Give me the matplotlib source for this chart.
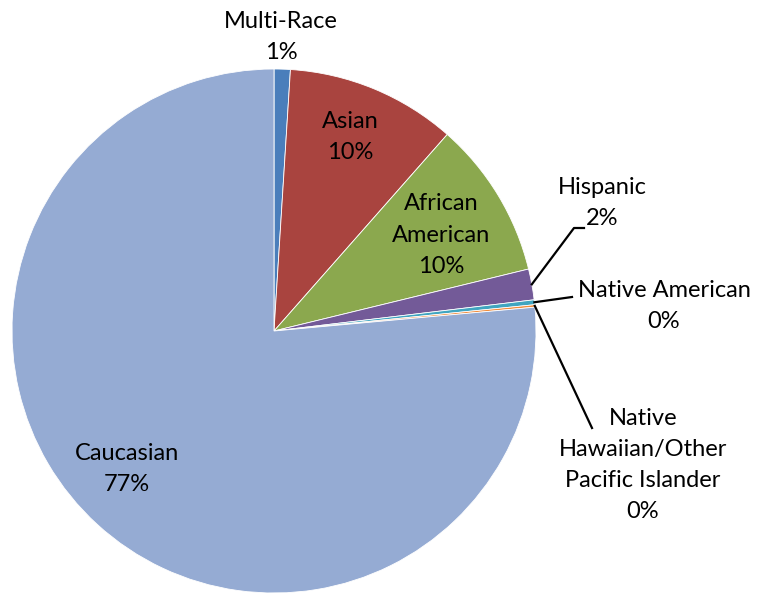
import numpy as np
import matplotlib.pyplot as plt

# data, clockwise from 12 o'clock
groups = ["Multi-Race", "Asian", "African\nAmerican", "Hispanic", "Native American",
          "Native\nHawaiian/Other\nPacific Islander", "Caucasian"]
shares = [1.0, 10.5, 9.7, 1.9, 0.3, 0.15, 76.45]
pct_text = ["1%", "10%", "10%", "2%", "0%", "0%", "77%"]
colors = ["#4A7EBB", "#A9443F", "#8BA84E", "#735A98", "#40A5C0", "#F08C3C", "#95ABD3"]

W, H = 757, 593
CX, CY, R = 274, H - 331, 262

fig = plt.figure(figsize=(W / 100, H / 100), dpi=100)
ax = fig.add_axes([0, 0, 1, 1])

wedges, _ = ax.pie(shares, colors=colors, startangle=90, counterclock=False,
                   center=(CX, CY), radius=R, frame=True,
                   wedgeprops=dict(edgecolor="white", linewidth=0.6))
ax.set_xlim(0, W)
ax.set_ylim(0, H)
ax.axis("off")

fs = 17

# label centres in pixel coords (y from top)
label_pos = [(281, 37), (350, 137), (441, 235), (602, 203), (664, 306), (643, 465), (127, 469)]
for name, pct, (x, y) in zip(groups, pct_text, label_pos):
    ax.text(x, H - y, name + "\n" + pct, ha="center", va="center", fontsize=fs,
            linespacing=1.6, family=["Lato", "DejaVu Sans"])

# leader lines for the thin slices
def edge_point(w):
    mid = np.deg2rad((w.theta1 + w.theta2) / 2)
    return CX + R * np.cos(mid), CY + R * np.sin(mid)

leaders = {3: [(574, 228), (584, 228)], 4: [(572, 297)], 5: [(592, 428)]}
for i, pts in leaders.items():
    x0, y0 = edge_point(wedges[i])
    xs = [x0] + [p[0] for p in pts]
    ys = [y0] + [H - p[1] for p in pts]
    ax.plot(xs, ys, color="black", linewidth=1.6)

fig.savefig("out.png", dpi=100)
